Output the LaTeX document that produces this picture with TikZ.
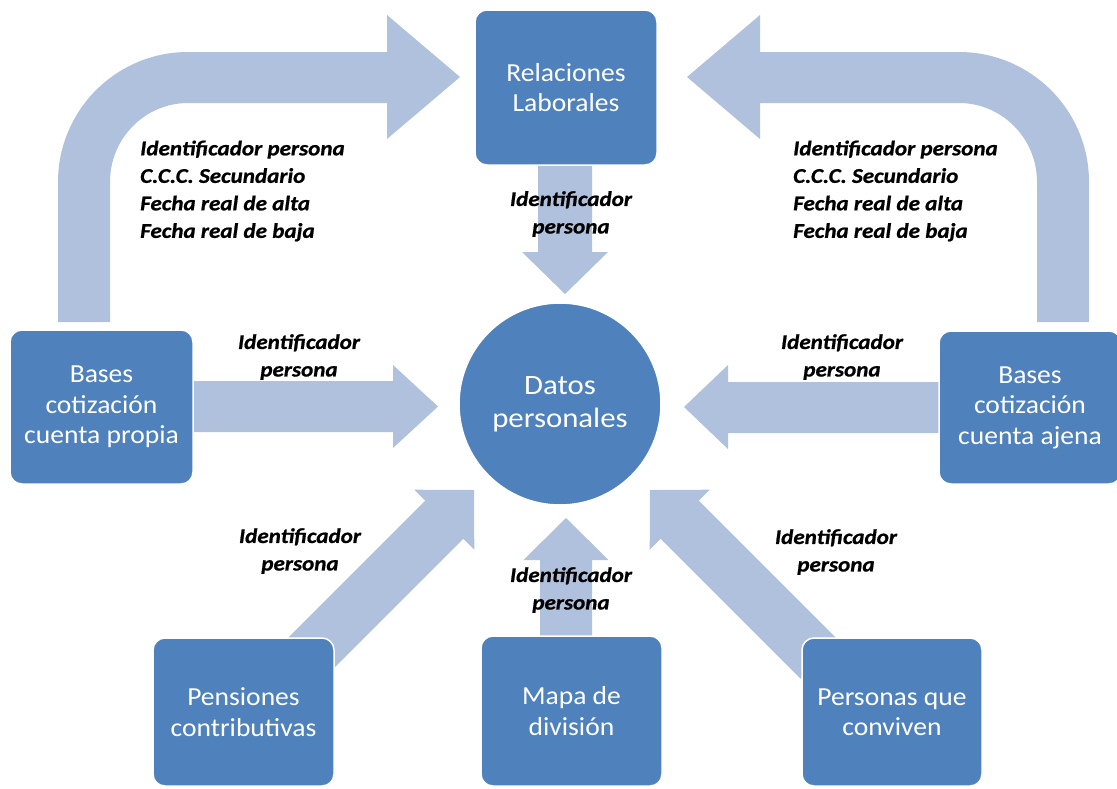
\documentclass[tikz,border=0pt]{standalone}
\usepackage{fontspec}
\setmainfont{Carlito}
\newfontfamily\boxfont[FakeStretch=1.06]{Carlito}
\newfontfamily\circfont[FakeStretch=1.1]{Carlito}
\newfontfamily\lblfont[FakeStretch=1.1,FakeBold=0.8]{Carlito}
\definecolor{boxblue}{RGB}{79,129,189}
\definecolor{arrowblue}{RGB}{176,193,221}
\tikzset{
  blk/.style={rectangle, rounded corners=12pt, fill=boxblue, draw=white, line width=1.5pt,
    text=white, font=\boxfont\fontsize{26}{30.5}\selectfont, align=center, inner sep=0pt},
  circ/.style={circle, fill=boxblue, draw=white, line width=1.5pt, text=white,
    font=\circfont\fontsize{28}{33}\selectfont, align=center, minimum size=202pt, inner sep=0pt},
  lbl/.style={font=\lblfont\bfseries\itshape\fontsize{21}{27.5}\selectfont, align=center, inner sep=0pt, text=black},
  lblblock/.style={font=\lblfont\bfseries\itshape\fontsize{21}{27.5}\selectfont, align=left, inner sep=0pt, text=black, anchor=west},
  fat/.style={fill=arrowblue}
}
\begin{document}
\begin{tikzpicture}[x=1pt,y=-1pt]
\useasboundingbox (0,0) rectangle (1117,788);
\fill[white] (0,0) rectangle (1117,788);

% block arrows
% top-left bent arrow (cuenta propia -> Relaciones Laborales)
\fill[fat] (58,322) -- (58,182) .. controls (58,110.2) and (116.2,52) .. (188,52) -- (387,52) -- (387,15) -- (460,77)
  -- (387,139) -- (387,103) -- (188,103) .. controls (144.9,103) and (110,138.4) .. (110,182) -- (110,322) -- cycle;
% top-right bent arrow (cuenta ajena -> Relaciones Laborales)
\fill[fat] (1089,322) -- (1089,182) .. controls (1089,110.2) and (1030.8,52) .. (959,52) -- (760,52) -- (760,15) -- (687,77)
  -- (760,139) -- (760,103) -- (959,103) .. controls (1002.1,103) and (1037,138.4) .. (1037,182) -- (1037,322) -- cycle;
% Relaciones Laborales -> Datos (down)
\fill[fat] (538,160) -- (592,160) -- (592,252) -- (608,252) -- (565,294) -- (522,252) -- (538,252) -- cycle;
% cuenta propia -> Datos (right)
\fill[fat] (185,381) -- (393,381) -- (393,365) -- (438,406.5) -- (393,448) -- (393,432) -- (185,432) -- cycle;
% cuenta ajena -> Datos (left)
\fill[fat] (950,382) -- (728,382) -- (728,365) -- (684,407) -- (728,449) -- (728,433) -- (950,433) -- cycle;
% Mapa -> Datos (up)
\fill[fat] (540,645) -- (540,560) -- (523.5,560) -- (566,518) -- (608.5,560) -- (592,560) -- (592,645) -- cycle;
% Pensiones -> Datos (up-right)
\fill[fat] (285.2,640.6) -- (425.2,500.6) -- (414.3,489.7) -- (474,490) -- (474.3,549.7) -- (463.4,538.8) -- (323.4,678.8) -- cycle;
% Personas -> Datos (up-left)
\fill[fat] (838.8,640.6) -- (698.8,500.6) -- (709.7,489.7) -- (650,490) -- (649.7,549.7) -- (660.6,538.8) -- (800.6,678.8) -- cycle;

% nodes
\node[blk, minimum width=182pt, minimum height=155pt] (rl) at (566,87.5) {Relaciones\\Laborales};
\node[blk, minimum width=183pt, minimum height=154pt] (bp) at (101.5,407) {Bases\\cotización\\cuenta propia};
\node[blk, minimum width=182pt, minimum height=153pt] (ba) at (1030,407.5) {Bases\\cotización\\cuenta ajena};
\node[blk, minimum width=181pt, minimum height=148pt] (pc) at (243.5,712) {Pensiones\\contributivas};
\node[blk, minimum width=181pt, minimum height=150pt] (md) at (571.5,711) {Mapa de\\división};
\node[blk, minimum width=180pt, minimum height=148pt] (pq) at (892,712) {Personas que\\conviven};
\node[circ] (dp) at (560,404) {Datos\\personales};

% labels
\node[lblblock] (lt) at (140,191) {Identificador persona\\C.C.C. Secundario\\Fecha real de alta\\Fecha real de baja};
\node[lblblock] (rt) at (793,191) {Identificador persona\\C.C.C. Secundario\\Fecha real de alta\\Fecha real de baja};
\node[lbl] (l1) at (571,214) {Identificador\\persona};
\node[lbl] (l2) at (299,357) {Identificador\\persona};
\node[lbl] (l3) at (842,357) {Identificador\\persona};
\node[lbl] (l4) at (300,551) {Identificador\\persona};
\node[lbl] (l5) at (571,590) {Identificador\\persona};
\node[lbl] (l6) at (836,552) {Identificador\\persona};
\end{tikzpicture}
\end{document}
